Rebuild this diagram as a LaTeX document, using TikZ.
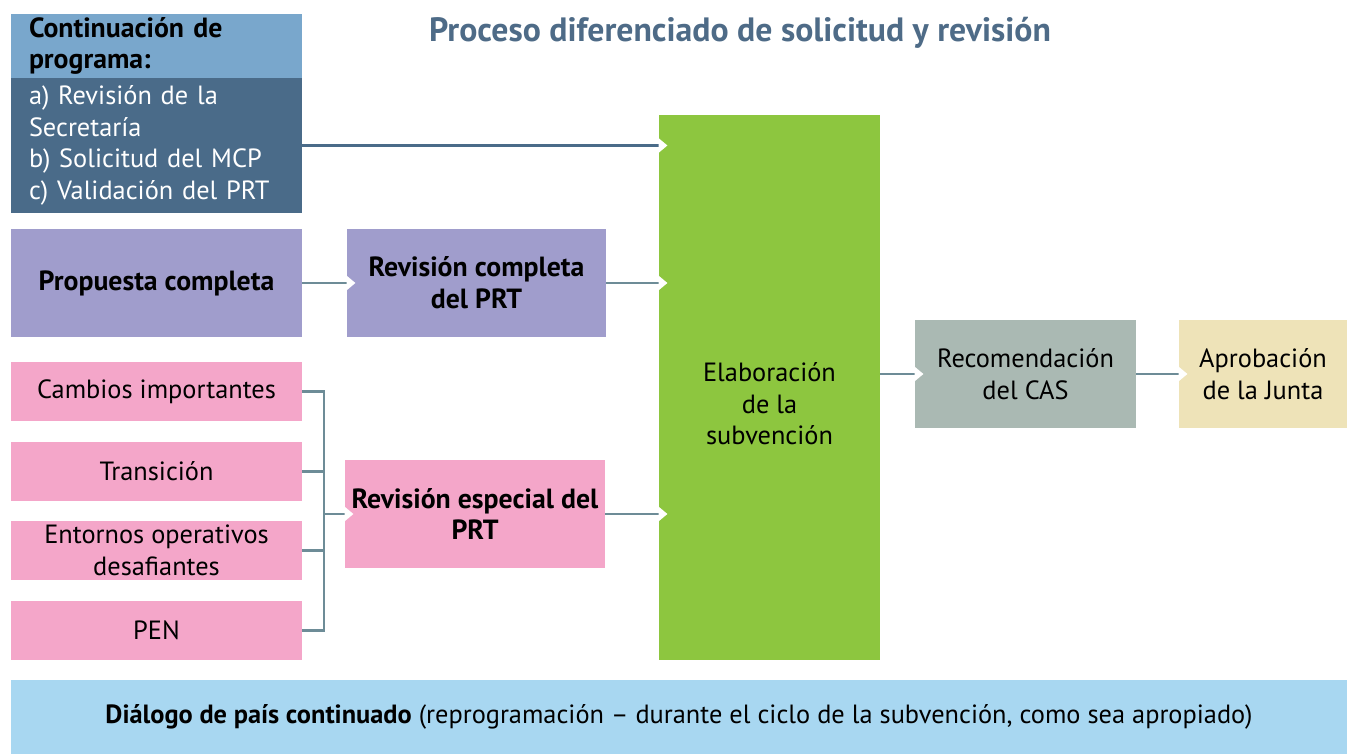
\documentclass[tikz,border=0pt]{standalone}
\usepackage{fontspec}
\setmainfont{PT Sans}
\usepackage{xcolor}
\usetikzlibrary{arrows.meta}
\definecolor{headblue}{HTML}{79A7CC}
\definecolor{darkblue}{HTML}{4A6B89}
\definecolor{lavender}{HTML}{A09DCC}
\definecolor{pinkbox}{HTML}{F4A6C9}
\definecolor{greenbox}{HTML}{8DC63F}
\definecolor{graybox}{HTML}{AAB9B3}
\definecolor{beigebox}{HTML}{EEE3B8}
\definecolor{skybox}{HTML}{A8D7F1}
\definecolor{titleblue}{HTML}{4E6B87}
\definecolor{linkteal}{HTML}{6D8C97}
\tikzstyle{block} = [rectangle, inner sep=2pt, align=center, minimum height=2.16cm, font=\fontsize{15}{18}\selectfont]
\tikzstyle{bold} = [font=\fontsize{15.8}{18}\selectfont\bfseries]
\tikzstyle{small} = [block, minimum width=5.82cm, minimum height=1.18cm, fill=pinkbox]
\tikzstyle{line} = [draw, line width=1.5pt, linkteal, -{Triangle[color=white,length=5pt,width=8pt]}]
\tikzstyle{tie} = [draw, line width=1.5pt, linkteal]

\begin{document}
\begin{tikzpicture}
\useasboundingbox (0,0) rectangle (26.94,-15.08);
\node [font=\fontsize{19.2}{22}\selectfont\bfseries, text=titleblue] (title) at (14.8,-0.66) {Proceso diferenciado de solicitud y revisión};

\node [block, fill=darkblue, text=white, minimum width=5.82cm, minimum height=2.70cm, inner xsep=0.36cm, text width=5.1cm, align=left] (contbody) at (3.13,-2.91) {a) Revisión de la\\Secretaría\\b) Solicitud del MCP\\c) Validación del PRT};
\node [block, bold, fill=headblue, minimum width=5.82cm, minimum height=1.28cm, inner xsep=0.36cm, text width=5.1cm, align=left] (conthead) at (3.13,-0.92) {Continuación de\\programa:};

\node [block, bold, fill=lavender, minimum width=5.82cm] (prop) at (3.13,-5.66) {Propuesta completa};
\node [block, bold, fill=lavender, minimum width=5.18cm] (revcomp) at (9.53,-5.66) {Revisión completa\\del PRT};

\node [small] (cambios) at (3.13,-7.83) {Cambios importantes};
\node [small] (trans) at (3.13,-9.43) {Transición};
\node [small] (entornos) at (3.13,-11.01) {Entornos operativos\\desafiantes};
\node [small] (pen) at (3.13,-12.61) {PEN};
\node [block, bold, fill=pinkbox, minimum width=5.20cm] (revesp) at (9.50,-10.28) {Revisión especial del\\PRT};

\node [block, fill=greenbox, minimum width=4.42cm, minimum height=10.90cm,
  label={[yshift=-0.33cm, align=center, font=\fontsize{15}{18}\selectfont]center:Elaboración\\de la\\subvención}] (elab) at (15.39,-7.75) {};
\node [block, fill=graybox, minimum width=4.42cm] (recom) at (20.51,-7.48) {Recomendación\\del CAS};
\node [block, fill=beigebox, minimum width=3.36cm] (aprob) at (25.26,-7.48) {Aprobación\\de la Junta};

\node [block, fill=skybox, minimum width=26.72cm, minimum height=1.48cm] (dialogo) at (13.58,-14.34) {\textbf{Diálogo de país continuado} (reprogramación -- durante el ciclo de la subvención, como sea apropiado)};

% connectors
\path [line, darkblue] (contbody.east) -- ([xshift=5pt]elab.west |- contbody.east);
\path [line] (prop) -- ([xshift=5pt]revcomp.west);
\path [line] (revcomp) -- ([xshift=5pt]elab.west |- revcomp.east);
\coordinate (join) at (6.48,-10.28);
\path [tie] (cambios.east) -| (join);
\path [tie] (pen.east) -| (join);
\path [tie] (trans.east) -- (trans.east -| join);
\path [tie] (entornos.east) -- (entornos.east -| join);
\path [line] (join) -- ([xshift=5pt]revesp.west);
\path [line] (revesp) -- ([xshift=5pt]elab.west |- revesp.east);
\path [line] (elab.east |- recom.west) -- ([xshift=5pt]recom.west);
\path [line] (recom) -- ([xshift=5pt]aprob.west);
\end{tikzpicture}
\end{document}
